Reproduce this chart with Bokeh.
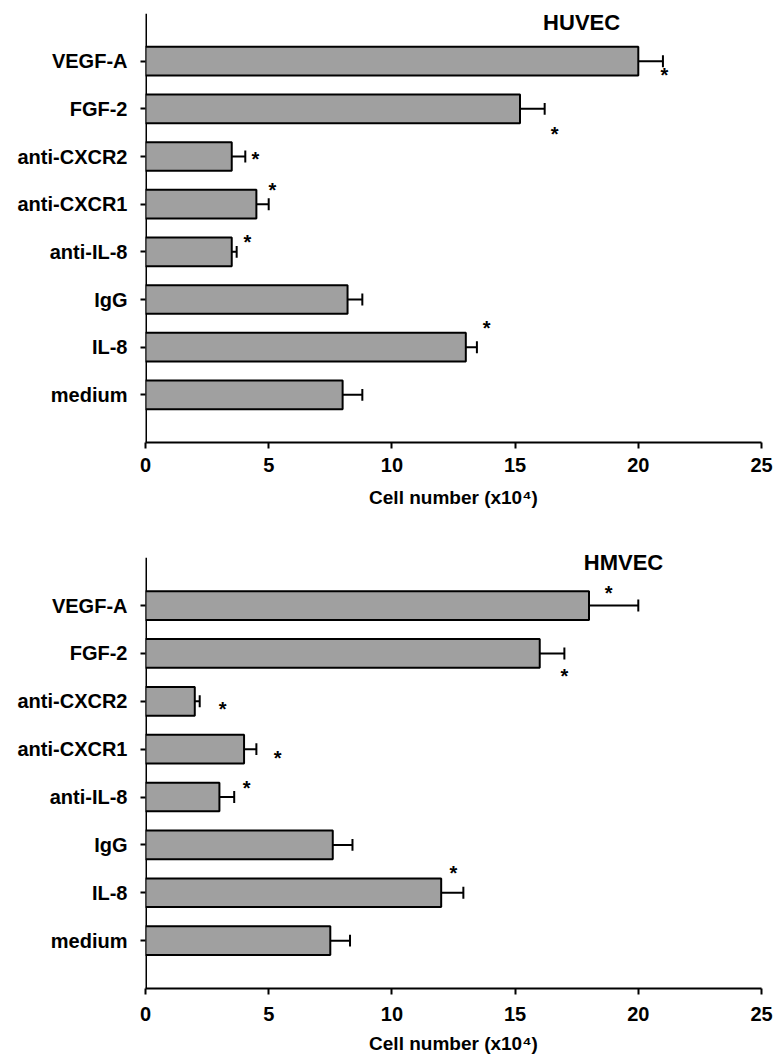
from bokeh.plotting import figure
from bokeh.models import Range1d, FixedTicker, Label, ColumnDataSource
from bokeh.layouts import column
from bokeh.embed import file_html
from bokeh.resources import INLINE
from bokeh.core.properties import value

# ---------------- data ----------------
categories = ["medium", "IL-8", "IgG", "anti-IL-8", "anti-CXCR1", "anti-CXCR2", "FGF-2", "VEGF-A"]
x_ticks = [0, 5, 10, 15, 20, 25]

huvec_mean = [8.0, 13.0, 8.2, 3.5, 4.5, 3.5, 15.2, 20.0]
huvec_err = [0.8, 0.45, 0.6, 0.2, 0.5, 0.55, 1.0, 1.0]
huvec_star_x = [21.06, 16.6, 4.46, 5.15, 4.14, 13.84]
huvec_star_y = [6.76, 5.52, 5.0, 4.33, 3.24, 1.45]

hmvec_mean = [7.5, 12.0, 7.6, 3.0, 4.0, 2.0, 16.0, 18.0]
hmvec_err = [0.8, 0.9, 0.8, 0.6, 0.5, 0.2, 1.0, 2.0]
hmvec_star_x = [18.8, 17.0, 3.13, 5.36, 4.1, 12.5]
hmvec_star_y = [7.31, 5.58, 4.87, 3.86, 3.22, 1.46]

x_label = "Cell number (x10\u2074)"
FONT = "Liberation Sans"
Y_LO, Y_AXIS_TOP = -1, 8


def make_panel(name, name_x, name_y, means, errs, star_x, star_y, y_top,
               frame_h, b_top, b_bottom, tick_standoff, label_standoff):
    idx = list(range(len(categories)))
    ends = [m + e for m, e in zip(means, errs)]
    src = ColumnDataSource(dict(y=idx, m=means, end=ends,
                                lo=[i - 0.125 for i in idx],
                                hi=[i + 0.125 for i in idx]))
    p = figure(frame_width=616, frame_height=frame_h,
               x_range=Range1d(0, 25), y_range=Range1d(Y_LO, y_top),
               output_backend="svg", toolbar_location=None,
               min_border_left=145, min_border_right=12,
               min_border_top=b_top, min_border_bottom=b_bottom)
    p.outline_line_color = None
    p.grid.visible = False
    p.background_fill_color = "white"
    p.border_fill_color = "white"

    # y axis line (drawn up to the last category slot only)
    p.segment(x0=[0], y0=[Y_LO], x1=[0], y1=[Y_AXIS_TOP],
              line_color="black", line_width=3)

    p.hbar(y="y", left=0, right="m", height=0.6, source=src,
           fill_color="#a0a0a0", line_color="black", line_width=2)
    p.segment(x0="m", y0="y", x1="end", y1="y", source=src,
              line_color="black", line_width=2)
    p.segment(x0="end", y0="lo", x1="end", y1="hi", source=src,
              line_color="black", line_width=2)

    p.text(x=star_x, y=star_y, text=["*"] * len(star_x),
           text_font=value(FONT), text_font_style="bold",
           text_font_size="20px", text_align="center",
           text_baseline="middle", y_offset=2, text_color="black")

    p.add_layout(Label(x=name_x, y=name_y, text=name, text_font=FONT,
                       text_font_style="bold", text_font_size="22px",
                       text_align="center", text_baseline="middle",
                       text_color="black"))

    xa = p.xaxis[0]
    xa.ticker = FixedTicker(ticks=x_ticks)
    xa.axis_line_width = 2
    xa.major_tick_line_width = 2
    xa.major_tick_out = 6
    xa.major_tick_in = 0
    xa.minor_tick_line_color = None
    xa.major_label_text_font = FONT
    xa.major_label_text_font_style = "bold"
    xa.major_label_text_font_size = "20px"
    xa.major_label_text_color = "black"
    xa.major_label_standoff = tick_standoff
    xa.axis_label = x_label
    xa.axis_label_text_font = FONT
    xa.axis_label_text_font_style = "bold"
    xa.axis_label_text_font_size = "19px"
    xa.axis_label_text_color = "black"
    xa.axis_label_standoff = label_standoff

    ya = p.yaxis[0]
    ya.ticker = FixedTicker(ticks=idx)
    ya.major_label_overrides = {i: c for i, c in zip(idx, categories)}
    ya.axis_line_color = None
    ya.major_tick_line_width = 2
    ya.major_tick_out = 5
    ya.major_tick_in = 0
    ya.minor_tick_line_color = None
    ya.major_label_text_font = FONT
    ya.major_label_text_font_style = "bold"
    ya.major_label_text_font_size = "20px"
    ya.major_label_text_color = "black"
    ya.major_label_standoff = 13
    return p


top = make_panel("HUVEC", 17.7, 7.81, huvec_mean, huvec_err,
                 huvec_star_x, huvec_star_y, y_top=8,
                 frame_h=429, b_top=13, b_bottom=71,
                 tick_standoff=9, label_standoff=12)
bottom = make_panel("HMVEC", 19.4, 7.89, hmvec_mean, hmvec_err,
                    hmvec_star_x, hmvec_star_y, y_top=8.4,
                    frame_h=450, b_top=25, b_bottom=71,
                    tick_standoff=12, label_standoff=9)

layout = column(top, bottom, spacing=0)
open("out.html", "w").write(file_html(layout, INLINE))
